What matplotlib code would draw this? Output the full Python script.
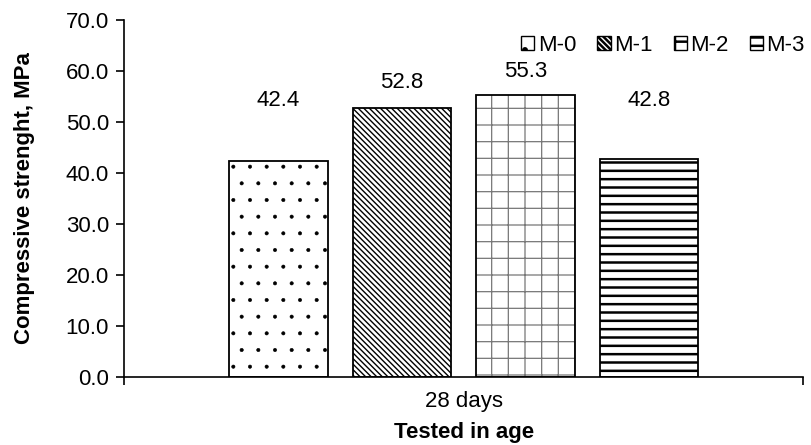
import matplotlib.pyplot as plt
import numpy as np

plt.rcParams['font.family'] = ['Liberation Sans', 'DejaVu Sans']

# data
mixes = ["M-0", "M-1", "M-2", "M-3"]
strength = [42.4, 52.8, 55.3, 42.8]
category = "28 days"
yticks = [0, 10, 20, 30, 40, 50, 60, 70]

# where the value labels sit above each bar (data units, label centre)
label_offsets = [11.9, 5.0, 4.7, 11.5]

hatches = ['.', '\\' * 6, '+', '--']
hatch_colors = ['black', 'black', '#777777', 'black']
hatch_lw = [0.4, 1.0, 0.9, 1.8]

fs = 16

fig = plt.figure(figsize=(8.12, 4.45), dpi=100)
ax = fig.add_axes([0.153, 0.153, 0.836, 0.802])

width = 0.145
step = 0.182
xs = 0.5 + (np.arange(len(mixes)) - 1.5) * step

handles = []
for i in range(len(mixes)):
    # hatch layer (edge colour sets the hatch colour)
    plt.rcParams['hatch.linewidth'] = hatch_lw[i]
    h = ax.bar(xs[i], strength[i], width, color='white',
               edgecolor=hatch_colors[i], linewidth=0, hatch=hatches[i],
               label=mixes[i])
    # black outline on top
    ax.bar(xs[i], strength[i], width, color='none', edgecolor='black',
           linewidth=1.3)
    handles.append(h)
    ax.text(xs[i], strength[i] + label_offsets[i], "%.1f" % strength[i],
            ha='center', va='center', fontsize=fs)

ax.set_xlim(0, 1)
ax.set_ylim(0, 70)
ax.set_yticks(yticks)
ax.set_yticklabels(["%.1f" % v for v in yticks], fontsize=fs)
ax.set_xticks([0, 1])
ax.set_xticklabels(["", ""])
ax.set_xticks([0.5], minor=True)
ax.set_xticklabels([category], minor=True, fontsize=fs)
ax.tick_params(axis='x', which='major', length=6, width=1.2, direction='out')
ax.tick_params(axis='x', which='minor', length=0, pad=10)
ax.tick_params(axis='y', length=6, width=1.2, direction='out', pad=5)

for s in ['top', 'right']:
    ax.spines[s].set_visible(False)
for s in ['left', 'bottom']:
    ax.spines[s].set_linewidth(1.2)

ax.set_ylabel("Compressive strenght, MPa", fontsize=fs, fontweight='bold', labelpad=22)
ax.set_xlabel("Tested in age", fontsize=fs, fontweight='bold', labelpad=7)

leg = ax.legend(handles=handles, loc='upper right', bbox_to_anchor=(1.032, 1.015),
                ncol=4, frameon=False, fontsize=fs, handlelength=0.6,
                handleheight=0.6, handletextpad=0.15, columnspacing=0.95)
for p in leg.get_patches():
    p.set_edgecolor('black')
    p.set_linewidth(1.0)

fig.savefig("out.png", dpi=100)
